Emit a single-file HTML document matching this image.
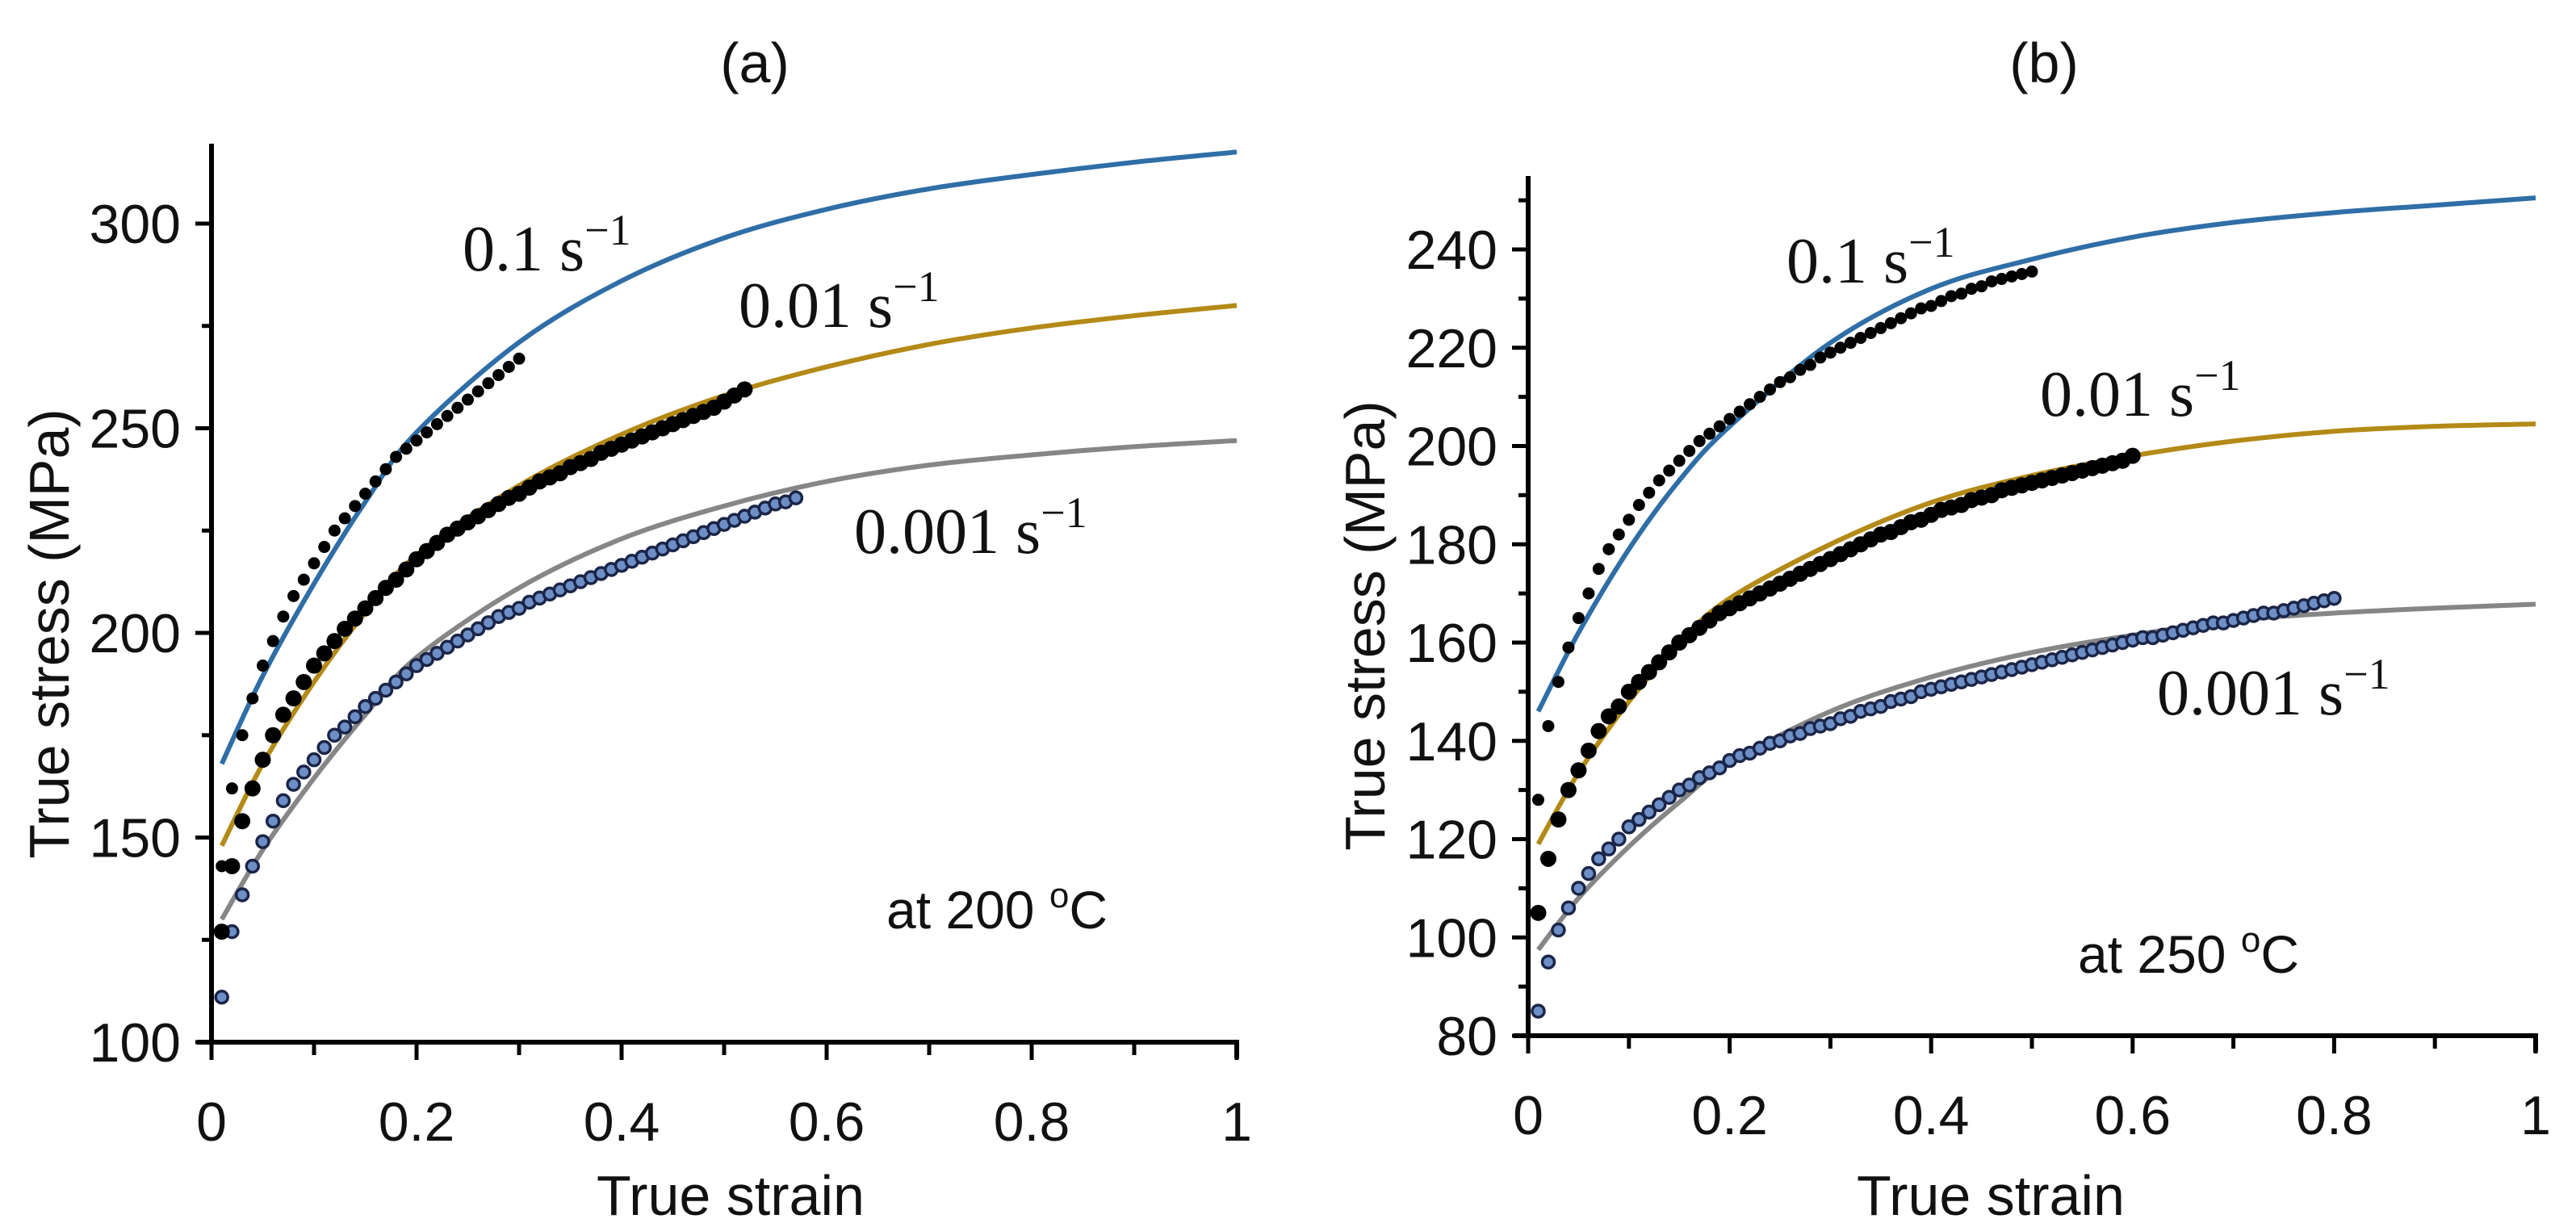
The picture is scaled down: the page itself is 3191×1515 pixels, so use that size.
<!DOCTYPE html>
<html><head><meta charset="utf-8"><style>
html,body{margin:0;padding:0;background:#fff;}
svg{display:block;}
text{font-family:"Liberation Sans",sans-serif;fill:#111;}
.ann{font-family:"Liberation Serif",serif;}
</style></head><body>
<svg id="fig" width="3191" height="1515" viewBox="0 0 3191 1515" xmlns="http://www.w3.org/2000/svg"></svg>
<script>
// ---------- data ----------
const fitX = [0.01,0.05,0.1,0.15,0.2,0.3,0.4,0.5,0.6,0.7,0.8,0.9,1.0];
const aFit01   = [168,189.5,212,232,249,271,286,296.5,303.5,308.5,312,315,317.5];
const aFit001  = [148,168,188,205,219,236,248.5,258,265,270.5,274.5,277.5,280];
const aFit0001 = [130,147,164.5,180,194,211,223,231,237,241,243.5,245.5,247];
const bFit01   = [146,162,179,193,204,221,232,238,242.5,245.5,247.5,249,250.5];
const bFit001  = [119,133.5,148,160,169,180,188.5,194,198,201,203,204,204.5];
const bFit0001 = [97.5,108,118.5,127.5,135.5,146,153,158,161.5,164.5,166,167,167.8];
const ptStep = 0.01;
const aPts01 = [143,162,175,184,192,198,204,209,213,217,221,225,228,231,234,237,240,243,245,247,249,251,253,255,257,259,261,263,265,267];
const aPts001 = [127,143,154,162,169,175,180,184,188,192,195,198,201,203.5,206,208.5,211,213,215.5,218,220,222,224,225.5,227,228.5,230,231.5,233,234,235.5,237,238,239,240.5,241.5,242.5,244,245,246,247,248,249,250,251,252,253,254,255,256.5,258,259.5];
const aPts0001 = [111,127,136,143,149,154,159,163,166,169,172,175,177,179.5,182,184,186,188,190,192,193.5,195,196.5,198,199.5,201,202.5,204,205,206,207.5,208.5,209.5,210.5,211.5,212.5,213.5,214.5,215.5,216.5,217.5,218.5,219.5,220.5,221.5,222.5,223.5,224.5,225.5,226.5,227.5,228.5,229.5,230.5,231.5,232,233];
const bPts01 = [128,143,152,159,165,170,175,179,182,185,188,190.5,193,195,197,199,201,202.5,204,205.5,207,208.5,210,211.5,213,214,215.5,216.5,218,219,220,221,222,223,224,225,226,227,228,228.5,229.5,230.5,231,232,232.5,233.5,234,234.5,235,235.5];
const bPts001 = [105,116,124,130,134,138,142,145,147,150,152,154,156,158,160,161.5,163,164.5,166,167,168,169,170,171,172,173,174,175,176,177,178,179,180,181,182,182.5,183.5,184.5,185,186,187,187.5,188,189,189.5,190,191,191.5,192,192.5,193,193.5,194,194.5,195,195.5,196,196.5,197,198];
const bPts0001 = [85,95,101.5,106,110,113,116,118,120,122.5,124,125.5,127,128.5,130,131,132.5,133.5,134.5,136,137,137.5,138.5,139.5,140,141,141.5,142.5,143,143.5,144.5,145,146,146.5,147,148,148.5,149,150,150.5,151,151.5,152,152.5,153,153.5,154,154.5,155,155.5,156,156.5,157,157.5,158,158.5,159,159.5,160,160.5,161,161,161.5,162,162.5,163,163.5,164,164,164.5,165,165.5,166,166,166.5,167,167.5,168,168.5,169];
const xTicks = [0,0.2,0.4,0.6,0.8,1];
const aYTicks = [100,150,200,250,300];
const bYTicks = [80,100,120,140,160,180,200,220,240];

// ---------- helpers ----------
const NS="http://www.w3.org/2000/svg";
const svg=document.getElementById('fig');
function mk(tag,attrs,parent){const e=document.createElementNS(NS,tag);for(const k in attrs)e.setAttribute(k,attrs[k]);(parent||svg).appendChild(e);return e;}
function smooth(pts){let d=`M${pts[0][0]},${pts[0][1]}`;for(let i=0;i<pts.length-1;i++){const p0=pts[Math.max(0,i-1)],p1=pts[i],p2=pts[i+1],p3=pts[Math.min(pts.length-1,i+2)];const c1=[p1[0]+(p2[0]-p0[0])/6,p1[1]+(p2[1]-p0[1])/6],c2=[p2[0]-(p3[0]-p1[0])/6,p2[1]-(p3[1]-p1[1])/6];d+=` C${c1[0]},${c1[1]} ${c2[0]},${c2[1]} ${p2[0]},${p2[1]}`;}return d;}

function panel(cfg){
  const g=mk('g',{});
  
  
  const X=v=>cfg.x0+(cfg.x1-cfg.x0)*v;
  const Y=v=>cfg.y0-(v-cfg.ymin)*(cfg.y0-cfg.yTopRef)/(cfg.yRef-cfg.ymin);
  const fits=[[cfg.f01,'#2f6ea6','fit-0.1'],[cfg.f001,'#b38a17','fit-0.01'],[cfg.f0001,'#868686','fit-0.001']];
  fits.forEach(f=>{const p=mk('path',{d:smooth(fitX.map((x,i)=>[X(x),Y(f[0][i])])),fill:'none',stroke:f[1],'stroke-width':6},g);
    
    });
  const series=[[cfg.p0001,7.5,'#6d8fc6','#1b2547',3.5,'pts-0.001'],[cfg.p001,10,'#000','#000',0,'pts-0.01'],[cfg.p01,7.5,'#000','#000',0,'pts-0.1']];
  series.forEach(s=>{const sg=mk('g',{},g);
    
    
    s[0].forEach((v,i)=>{const c=mk('circle',{cx:X((i+1)*ptStep),cy:Y(v),r:s[1],fill:s[2],stroke:s[3],'stroke-width':s[4]},sg);
      
      });});
  const ax=mk('path',{d:`M${cfg.x0},${cfg.yTop} V${cfg.y0} M${cfg.x0-18},${cfg.y0} H${cfg.x1} V${cfg.y0+20}`,stroke:'#000','stroke-width':6,fill:'none'},g);
  
  
  for(let k=0;k<=10;k++){const t=mk('line',{x1:X(k/10),x2:X(k/10),y1:cfg.y0,y2:cfg.y0+(k%2?16:22),stroke:'#000','stroke-width':5},g);
    
    }
  for(let v=cfg.ymin;v<=cfg.ymaxTick;v+=cfg.minor){const maj=cfg.yTicks.includes(v);const t=mk('line',{x1:cfg.x0-(maj?20:12),x2:cfg.x0,y1:Y(v),y2:Y(v),stroke:'#000','stroke-width':5},g);
    
    }
  xTicks.forEach(v=>{const t=mk('text',{x:X(v),y:cfg.y0+122,'font-size':68,'text-anchor':'middle'},g);t.textContent=String(v);
    
    });
  cfg.yTicks.forEach(v=>{const t=mk('text',{x:cfg.x0-38,y:Y(v)+24,'font-size':68,'text-anchor':'end'},g);t.textContent=String(v);
    
    });
  const xt=mk('text',{x:cfg.xtX,y:1505,'font-size':70,'text-anchor':'middle'},g);xt.textContent='True strain';
  
  
  const yt=mk('text',{x:0,y:0,'font-size':70,'text-anchor':'middle',transform:`translate(${cfg.ytX},${cfg.ytY}) rotate(-90)`},g);yt.textContent='True stress (MPa)';
  
  
  const pt=mk('text',{x:cfg.ptX,y:102,'font-size':70,'text-anchor':'middle'},g);pt.textContent=cfg.title;
  
  
  cfg.anns.forEach(a=>{const t=mk('text',{x:a[0],y:a[1],'font-size':80,class:'ann'},g);
    t.innerHTML=`${a[2]} s<tspan dy="-32" font-size="54">−1</tspan>`;
    
    });
  const tt=mk('text',{x:cfg.tempX,y:cfg.tempY,'font-size':66},g);
  tt.innerHTML=`at ${cfg.temp} <tspan dy="-26" font-size="44">o</tspan><tspan dy="26">C</tspan>`;
  
  
}

panel({name:'panel-a',title:'(a)',ptX:935,x0:262,x1:1532,y0:1291,yTop:178,ymin:100,yRef:300,yTopRef:277,ymaxTick:300,minor:25,yTicks:aYTicks,
  f01:aFit01,f001:aFit001,f0001:aFit0001,p01:aPts01,p001:aPts001,p0001:aPts0001,
  xtX:905,ytX:85,ytY:785,
  anns:[[573,335,'0.1'],[915,405,'0.01'],[1058,685,'0.001']],temp:'200',tempX:1098,tempY:1150});
panel({name:'panel-b',title:'(b)',ptX:2532,x0:1893,x1:3141,y0:1283,yTop:218,ymin:80,yRef:240,yTopRef:309,ymaxTick:250,minor:10,yTicks:bYTicks,
  f01:bFit01,f001:bFit001,f0001:bFit0001,p01:bPts01,p001:bPts001,p0001:bPts0001,
  xtX:2466,ytX:1715,ytY:775,
  anns:[[2213,350,'0.1'],[2527,515,'0.01'],[2672,885,'0.001']],temp:'250',tempX:2574,tempY:1205});
</script>
</body></html>
